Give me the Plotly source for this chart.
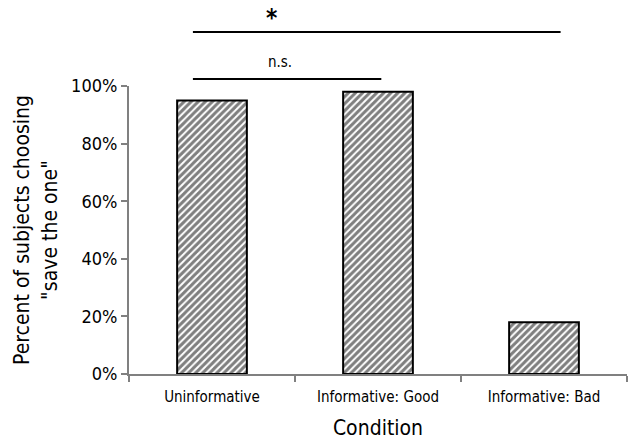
import plotly.graph_objects as go

categories = ["Uninformative", "Informative: Good", "Informative: Bad"]
percent_save_one = [95, 98, 18]
y_ticks = [0, 20, 40, 60, 80, 100]
y_tick_labels = ["0%", "20%", "40%", "60%", "80%", "100%"]

FONT = "Liberation Sans Narrow, Arial Narrow, DejaVu Sans Condensed, sans-serif"

fig = go.Figure(go.Bar(
    x=categories, y=percent_save_one, width=0.42,
    marker=dict(color="white", line=dict(color="black", width=2),
                pattern=dict(shape="/", fgcolor="black", bgcolor="white", size=5, solidity=0.6)),
))

# significance brackets (x in category units, y in paper units above plot)
fig.add_shape(type="line", xref="x", yref="paper", x0=-0.115, x1=1.02, y0=1.024, y1=1.024,
              line=dict(color="black", width=2))
fig.add_shape(type="line", xref="x", yref="paper", x0=-0.115, x1=2.1, y0=1.1875, y1=1.1875,
              line=dict(color="black", width=2))
fig.add_annotation(x=0.41, xref="x", y=1.12, yref="paper", text="n.s.", showarrow=False,
                   font=dict(size=15, family=FONT, color="black"))
fig.add_annotation(x=0.36, xref="x", y=1.29, yref="paper", text="<b>*</b>", showarrow=False,
                   font=dict(size=24, family=FONT, color="black"))

fig.update_layout(
    width=636, height=440,
    margin=dict(l=129, r=9, t=86, b=66),
    plot_bgcolor="white", paper_bgcolor="white",
    showlegend=False,
    font=dict(family=FONT, color="black"),
    xaxis=dict(range=[-0.5, 2.5], showline=True, linecolor="#808080", linewidth=2,
               ticks="outside", tickson="boundaries", ticklen=6, tickcolor="#808080", tickwidth=2,
               tickfont=dict(size=15), showgrid=False, ticklabelstandoff=8, automargin=False,
               title=dict(text="Condition", font=dict(size=21), standoff=24)),
    yaxis=dict(range=[0, 100], tickvals=y_ticks, ticktext=y_tick_labels,
               showline=True, linecolor="#808080", linewidth=2, automargin=False,
               ticks="outside", ticklen=6, tickcolor="#808080", tickwidth=2,
               tickfont=dict(size=18), showgrid=False, zeroline=False,
               title=dict(text="Percent of subjects choosing<br>\"save the one\"", font=dict(size=21), standoff=8)),
)

fig.write_html("out.html", config={"displayModeBar": False},
               post_script="document.body.style.margin='0px';")
